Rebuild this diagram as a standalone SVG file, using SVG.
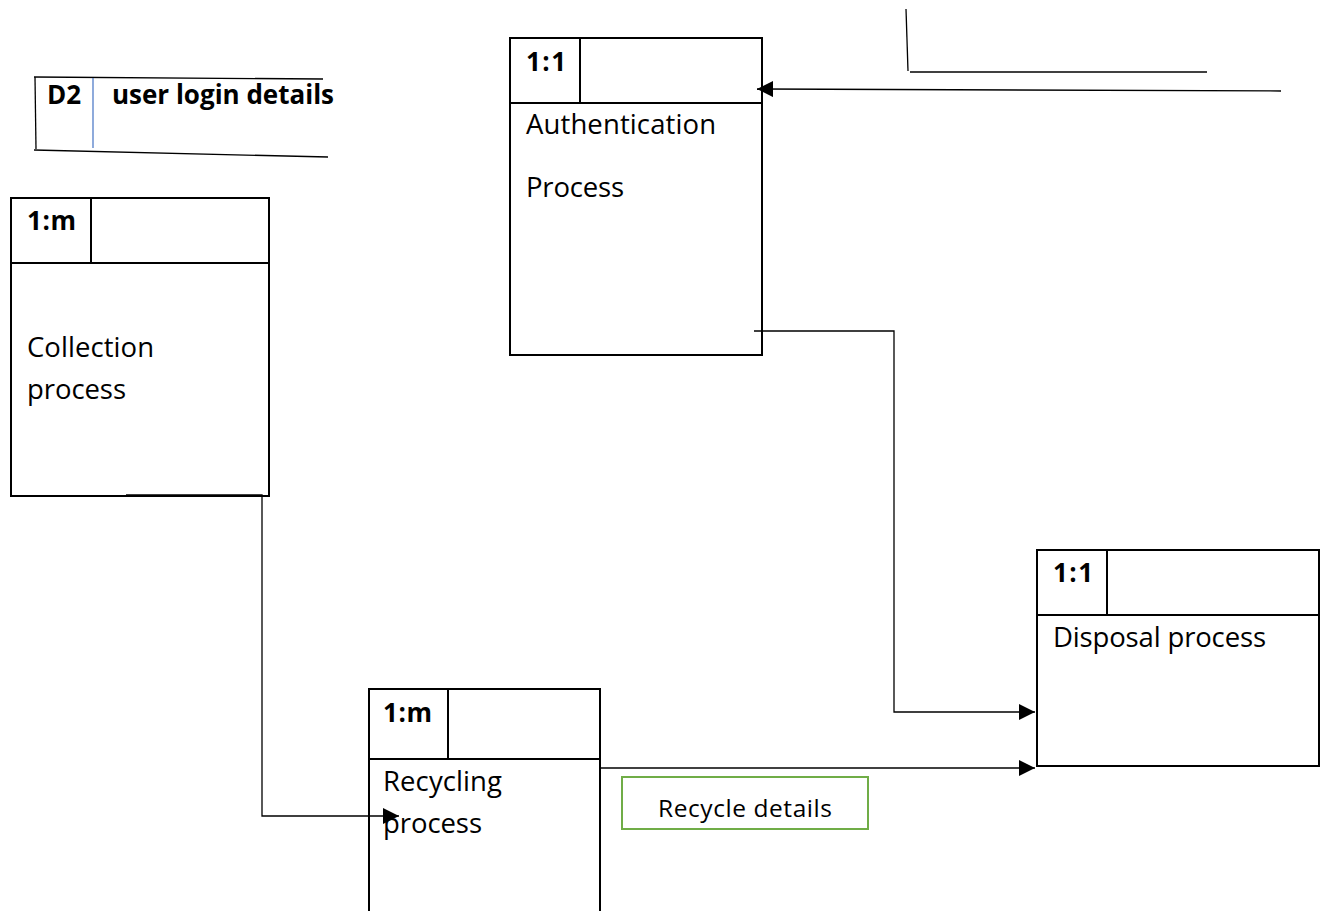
<svg xmlns="http://www.w3.org/2000/svg" width="1325" height="911" viewBox="0 0 1325 911">
  <defs>
    <style>
      .box { fill: #fff; stroke: #000; stroke-width: 2; }
      .div { stroke: #000; stroke-width: 2; fill: none; }
      .wire { stroke: #000; stroke-width: 1.3; fill: none; }
      .lbl { font-family: "Open Sans", "Liberation Sans", sans-serif; font-size: 27.5px; fill: #000; }
      .key { font-family: "Open Sans", "Liberation Sans", sans-serif; font-size: 26px; font-weight: bold; fill: #000; }
      .note { font-family: "Open Sans", "Liberation Sans", sans-serif; font-size: 24.5px; fill: #000; }
    </style>
    <marker id="arr" viewBox="0 0 10 10" refX="10" refY="5" markerWidth="16" markerHeight="16" markerUnits="userSpaceOnUse" orient="auto">
      <path d="M0,0 L10,5 L0,10 Z" fill="#000"/>
    </marker>
  </defs>

  <rect width="1325" height="911" fill="#fff"/>

  <!-- data store D2 -->
  <g id="store-d2">
    <line x1="34" y1="77" x2="323" y2="79" class="wire"/>
    <line x1="35" y1="77" x2="36" y2="149" class="wire"/>
    <line x1="93" y1="78" x2="93" y2="148" stroke="#4472C4" stroke-width="1.2"/>
    <line x1="34" y1="150" x2="328" y2="157" class="wire"/>
    <text x="47" y="104" class="key">D2</text>
    <text x="112" y="104" class="key" textLength="222">user login details</text>
  </g>

  <!-- external entity outline, top right -->
  <g id="entity-top-right">
    <line x1="906" y1="9" x2="908" y2="71" class="wire"/>
    <line x1="910" y1="72" x2="1207" y2="72" class="wire"/>
  </g>

  <!-- Authentication process -->
  <g id="proc-auth">
    <rect x="510" y="38" width="252" height="317" class="box"/>
    <line x1="510" y1="103" x2="762" y2="103" class="div"/>
    <line x1="580" y1="38" x2="580" y2="103" class="div"/>
    <text x="526" y="71" class="key" textLength="40">1:1</text>
    <text x="526" y="134" class="lbl" textLength="190">Authentication</text>
    <text x="526" y="197" class="lbl" textLength="98">Process</text>
  </g>

  <!-- Collection process -->
  <g id="proc-collection">
    <rect x="11" y="198" width="258" height="298" class="box"/>
    <line x1="11" y1="263" x2="269" y2="263" class="div"/>
    <line x1="91" y1="198" x2="91" y2="263" class="div"/>
    <text x="27" y="230" class="key" textLength="49">1:m</text>
    <text x="27" y="357" class="lbl" textLength="127">Collection</text>
    <text x="27" y="399" class="lbl" textLength="99">process</text>
  </g>

  <!-- Disposal process -->
  <g id="proc-disposal">
    <rect x="1037" y="550" width="282" height="216" class="box"/>
    <line x1="1037" y1="615" x2="1319" y2="615" class="div"/>
    <line x1="1107" y1="550" x2="1107" y2="615" class="div"/>
    <text x="1053" y="582" class="key" textLength="40">1:1</text>
    <text x="1053" y="647" class="lbl" textLength="213">Disposal process</text>
  </g>

  <!-- Recycling process -->
  <g id="proc-recycling">
    <path d="M369,911 L369,689 L600,689 L600,911" class="box"/>
    <line x1="369" y1="759" x2="600" y2="759" class="div"/>
    <line x1="448" y1="689" x2="448" y2="759" class="div"/>
    <text x="383" y="722" class="key" textLength="49">1:m</text>
    <text x="383" y="791" class="lbl" textLength="119">Recycling</text>
    <text x="383" y="833" class="lbl" textLength="99">process</text>
  </g>

  <!-- flow label -->
  <g id="label-recycle-details">
    <rect x="622" y="777" width="246" height="52" fill="#fff" stroke="#70AD47" stroke-width="2"/>
    <text x="745" y="817" class="note" text-anchor="middle" textLength="174">Recycle details</text>
  </g>

  <!-- data flows -->
  <g id="connectors">
    <line x1="1281" y1="91" x2="757" y2="89" class="wire" marker-end="url(#arr)"/>
    <polyline points="754,331 894,331 894,712 1035,712" class="wire" marker-end="url(#arr)"/>
    <polyline points="126,495 262,495 262,816 399,816" class="wire" marker-end="url(#arr)"/>
    <line x1="600" y1="768" x2="1035" y2="768" class="wire" marker-end="url(#arr)"/>
  </g>
</svg>
